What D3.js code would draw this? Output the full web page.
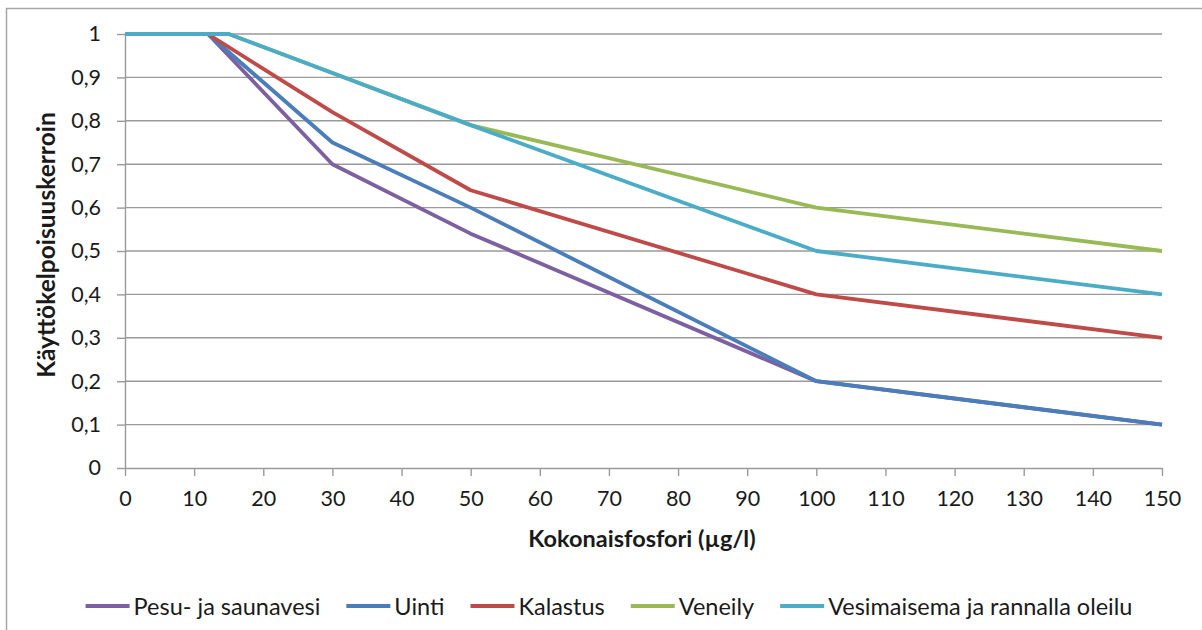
<!DOCTYPE html>
<html>
<head>
<meta charset="utf-8">
<script src="https://cdn.jsdelivr.net/npm/d3@7"></script>
<style>
  html, body { margin: 0; padding: 0; background: #fff; }
  svg { display: block; }
  text { font-family: Lato, "Open Sans", sans-serif; fill: #1a1a1a; }
</style>
</head>
<body>
<svg id="chart" width="1202" height="630"></svg>
<script>
// Series: total phosphorus (µg/l) against usability coefficient
const seriesNames = ["Pesu- ja saunavesi", "Uinti", "Kalastus", "Veneily", "Vesimaisema ja rannalla oleilu"];
const seriesColors = ["#7D60A0", "#4A7EBB", "#BE4B48", "#98B954", "#4BACC6"];

const pesuX = [0, 12, 30, 50, 100, 150];
const pesuY = [1, 1, 0.7, 0.54, 0.2, 0.1];
const uintiX = [0, 12, 30, 50, 100, 150];
const uintiY = [1, 1, 0.75, 0.6, 0.2, 0.1];
const kalastusX = [0, 12, 30, 50, 100, 150];
const kalastusY = [1, 1, 0.82, 0.64, 0.4, 0.3];
const veneilyX = [0, 15, 30, 50, 100, 150];
const veneilyY = [1, 1, 0.91, 0.79, 0.6, 0.5];
const maisemaX = [0, 15, 30, 50, 100, 150];
const maisemaY = [1, 1, 0.91, 0.79, 0.5, 0.4];

const xTicks = d3.range(0, 151, 10);
const yTicks = d3.range(0, 11).map(d => d / 10);

const xTitle = "Kokonaisfosfori (µg/l)";
const yTitle = "Käyttökelpoisuuskerroin";

const series = [
  { name: seriesNames[0], color: seriesColors[0], xs: pesuX, ys: pesuY },
  { name: seriesNames[1], color: seriesColors[1], xs: uintiX, ys: uintiY },
  { name: seriesNames[2], color: seriesColors[2], xs: kalastusX, ys: kalastusY },
  { name: seriesNames[3], color: seriesColors[3], xs: veneilyX, ys: veneilyY },
  { name: seriesNames[4], color: seriesColors[4], xs: maisemaX, ys: maisemaY }
];

const svg = d3.select("#chart");

// chart frame (runs off the right and bottom edges)
svg.append("rect")
  .attr("x", 6.5).attr("y", 8.5)
  .attr("width", 1210).attr("height", 640)
  .attr("fill", "#fff")
  .attr("stroke", "#a6a6a6").attr("stroke-width", 1.5);

const plot = { left: 125, right: 1162, top: 34, bottom: 468 };

const x = d3.scaleLinear().domain([0, 150]).range([plot.left, plot.right]);
const y = d3.scaleLinear().domain([0, 1]).range([plot.bottom, plot.top]);

const fmt = d => d === 0 ? "0" : d === 1 ? "1" : d3.format(".1f")(d).replace(".", ",");

// gridlines
svg.append("g")
  .selectAll("line")
  .data(yTicks.filter(d => d > 0))
  .join("line")
  .attr("x1", plot.left).attr("x2", plot.right)
  .attr("y1", d => y(d)).attr("y2", d => y(d))
  .attr("stroke", "#9a9a9a").attr("stroke-width", 1.4);

// y axis
const yAxis = svg.append("g")
  .attr("transform", `translate(${plot.left},0)`)
  .call(d3.axisLeft(y).tickValues(yTicks).tickFormat(fmt).tickSizeInner(8).tickSizeOuter(0).tickPadding(16));
yAxis.select(".domain").attr("stroke", "#9a9a9a").attr("stroke-width", 1.4);
yAxis.selectAll(".tick line").attr("stroke", "#9a9a9a").attr("stroke-width", 1.4);
yAxis.selectAll(".tick text").attr("font-size", 21.5).attr("font-family", "Lato, sans-serif").attr("fill", "#1a1a1a");

// x axis
const xAxis = svg.append("g")
  .attr("transform", `translate(0,${plot.bottom})`)
  .call(d3.axisBottom(x).tickValues(xTicks).tickFormat(d3.format("d")).tickSizeInner(8).tickSizeOuter(0).tickPadding(15));
xAxis.select(".domain").attr("stroke", "#9a9a9a").attr("stroke-width", 1.4);
xAxis.selectAll(".tick line").attr("stroke", "#9a9a9a").attr("stroke-width", 1.4);
xAxis.selectAll(".tick text").attr("font-size", 21.5).attr("font-family", "Lato, sans-serif").attr("fill", "#1a1a1a");

// series lines
const line = d3.line().x(d => x(d[0])).y(d => y(d[1]));
svg.append("g")
  .selectAll("path")
  .data(series)
  .join("path")
  .attr("d", s => line(s.xs.map((v, i) => [v, s.ys[i]])))
  .attr("fill", "none")
  .attr("stroke", s => s.color)
  .attr("stroke-width", 3.8)
  .attr("stroke-linejoin", "round");

// axis titles
svg.append("text")
  .attr("x", 642).attr("y", 547)
  .attr("text-anchor", "middle")
  .attr("font-size", 23.5).attr("font-weight", "bold")
  .text(xTitle);

svg.append("text")
  .attr("transform", `translate(55,245) rotate(-90)`)
  .attr("text-anchor", "middle")
  .attr("font-size", 24.5).attr("font-weight", "bold")
  .text(yTitle);

// legend
const legend = svg.append("g");
const swatch = 44, gapText = 4, gapItem = 26;
let lx = 0;
series.forEach(s => {
  const g = legend.append("g");
  g.append("line")
    .attr("x1", 0).attr("x2", swatch).attr("y1", 0).attr("y2", 0)
    .attr("stroke", s.color).attr("stroke-width", 3.8);
  const t = g.append("text")
    .attr("x", swatch + gapText).attr("y", 8.5)
    .attr("font-size", 23.5)
    .text(s.name);
  const w = swatch + gapText + t.node().getComputedTextLength();
  g.attr("transform", `translate(${lx},0)`);
  lx += w + gapItem;
});
const totalW = lx - gapItem;
legend.attr("transform", `translate(${609 - totalW / 2},606)`);
</script>
</body>
</html>
